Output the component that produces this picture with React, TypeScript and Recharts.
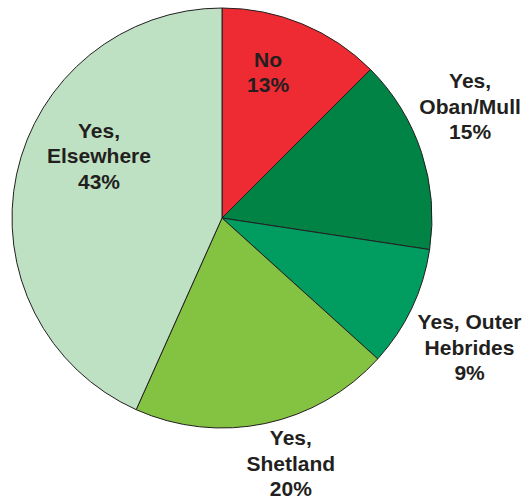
import { PieChart, Pie, Cell } from "recharts";

const categories = [
  ["No"],
  ["Yes,", "Oban/Mull"],
  ["Yes, Outer", "Hebrides"],
  ["Yes,", "Shetland"],
  ["Yes,", "Elsewhere"],
];
const shares = [12.5, 14.9, 9.3, 20.0, 43.3];
const shownPct = ["13%", "15%", "9%", "20%", "43%"];
const colors = ["#EE2B32", "#008345", "#009C60", "#83C341", "#BFE1C3"];

// label placement: radius factor and angle offset (deg) from slice middle
const labelPos = [
  [0.73, 5],
  [1.296, 6.1],
  [1.33, -2.2],
  [1.213, 3.8],
  [0.656, -14.7],
];

const data = categories.map((c, i) => ({ name: c.join(" "), value: shares[i] }));

const RAD = Math.PI / 180;

function renderLabel(props: any) {
  const { cx, cy, midAngle, outerRadius, index } = props;
  const [f, off] = labelPos[index];
  const a = (midAngle + off) * RAD;
  const x = cx + outerRadius * f * Math.cos(a);
  const y = cy - outerRadius * f * Math.sin(a);
  const lines = [...categories[index], shownPct[index]];
  const lh = 25.5;
  return (
    <text
      x={x}
      y={y}
      textAnchor="middle"
      fill="#231F20"
      fontFamily="'Liberation Sans', Arial, sans-serif"
      fontWeight="bold"
      fontSize={21}
    >
      {lines.map((l, i) => (
        <tspan key={i} x={x} y={y + 7.5 + (i - (lines.length - 1) / 2) * lh}>
          {l}
        </tspan>
      ))}
    </text>
  );
}

export default function App() {
  return (
    <div style={{ position: "fixed", left: 0, top: 0, background: "#fff" }}>
      <PieChart width={524} height={500} margin={{ top: 0, right: 0, bottom: 0, left: 0 }}>
        <Pie
          data={data}
          dataKey="value"
          cx={222}
          cy={218}
          outerRadius={210}
          startAngle={90}
          endAngle={-270}
          stroke="#231F20"
          strokeWidth={1}
          label={renderLabel}
          labelLine={false}
          isAnimationActive={false}
        >
          {data.map((d, i) => (
            <Cell key={d.name} fill={colors[i]} />
          ))}
        </Pie>
      </PieChart>
    </div>
  );
}
